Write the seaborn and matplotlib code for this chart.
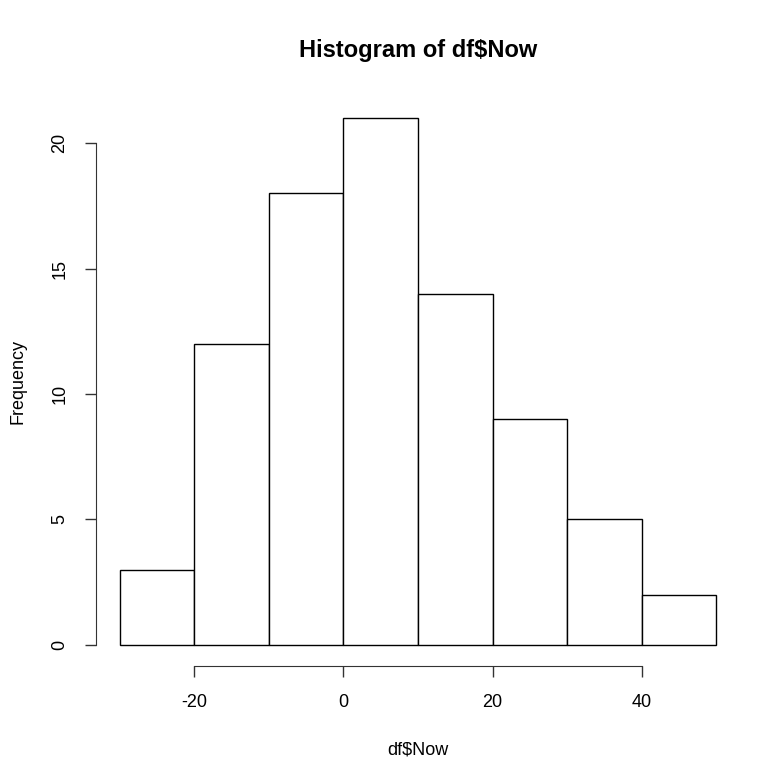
import numpy as np
import matplotlib
matplotlib.use("Agg")
import matplotlib.pyplot as plt
import seaborn as sns

# bin edges and counts
bin_edges = [-30, -20, -10, 0, 10, 20, 30, 40, 50]
counts = [3, 12, 18, 21, 14, 9, 5, 2]
x_ticks = [-20, 0, 20, 40]
y_ticks = [0, 5, 10, 15, 20]

bin_mids = [(a + b) / 2 for a, b in zip(bin_edges[:-1], bin_edges[1:])]

sns.set_style("ticks")
plt.rcParams["font.family"] = ["Liberation Sans", "DejaVu Sans"]
plt.rcParams["axes.unicode_minus"] = False
plt.rcParams["text.color"] = "black"
plt.rcParams["xtick.labelcolor"] = "black"
plt.rcParams["ytick.labelcolor"] = "black"
plt.rcParams["axes.labelcolor"] = "black"

fig = plt.figure(figsize=(7.59, 7.70), dpi=100)
ax = fig.add_axes([96 / 759, 1 - 666 / 770, 644 / 759, 569 / 770])

sns.histplot(x=bin_mids, weights=counts, bins=bin_edges, ax=ax,
             color="white", edgecolor="black", linewidth=1.0, alpha=1)

# R style axis limits (4% padding)
ax.set_xlim(-33.2, 53.2)
ax.set_ylim(-0.84, 21.84)

ax.set_xticks(x_ticks)
ax.set_yticks(y_ticks)
ax.tick_params(axis="both", length=8, width=1, color="#333333",
               labelsize=13, pad=12, labelcolor="black")
plt.setp(ax.get_yticklabels(), rotation=90, va="center")

for s in ["top", "right"]:
    ax.spines[s].set_visible(False)
ax.spines["left"].set_bounds(0, 20)
ax.spines["bottom"].set_bounds(-20, 40)
ax.spines["left"].set_color("#333333")
ax.spines["bottom"].set_color("#333333")

ax.set_xlabel("df$Now", fontsize=13, labelpad=22, color="black")
ax.set_ylabel("Frequency", fontsize=13, labelpad=18, color="black")
ax.set_title("Histogram of df$Now", fontsize=17, fontweight="bold",
             pad=29, color="black")

fig.savefig("out.png", dpi=100)
